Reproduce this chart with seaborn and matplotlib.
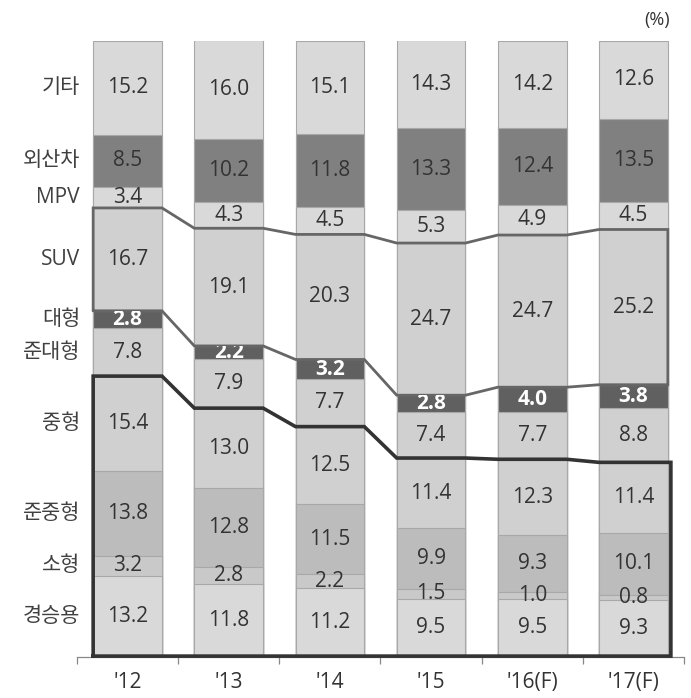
import numpy as np
import pandas as pd
import matplotlib
matplotlib.use("Agg")
import matplotlib.pyplot as plt
from matplotlib.transforms import Bbox, TransformedBbox
import seaborn as sns

# Market share by segment (%), stacked bottom -> top
years = ["'12", "'13", "'14", "'15", "'16(F)", "'17(F)"]
segments = ["경승용", "소형", "준중형", "중형", "준대형", "대형", "SUV", "MPV", "외산차", "기타"]

light_car = [13.2, 11.8, 11.2, 9.5, 9.5, 9.3]
small     = [3.2, 2.8, 2.2, 1.5, 1.0, 0.8]
semi_mid  = [13.8, 12.8, 11.5, 9.9, 9.3, 10.1]
mid       = [15.4, 13.0, 12.5, 11.4, 12.3, 11.4]
semi_large = [7.8, 7.9, 7.7, 7.4, 7.7, 8.8]
large     = [2.8, 2.2, 3.2, 2.8, 4.0, 3.8]
suv       = [16.7, 19.1, 20.3, 24.7, 24.7, 25.2]
mpv       = [3.4, 4.3, 4.5, 5.3, 4.9, 4.5]
imported  = [8.5, 10.2, 11.8, 13.3, 12.4, 13.5]
others    = [15.2, 16.0, 15.1, 14.3, 14.2, 12.6]

series = [light_car, small, semi_mid, mid, semi_large, large, suv, mpv, imported, others]
colors = ["#d9d9d9", "#c9c9c9", "#bcbcbc", "#d0d0d0", "#d0d0d0",
          "#606060", "#d0d0d0", "#d9d9d9", "#808080", "#d9d9d9"]
dark_segments = {"대형"}

sns.set_theme(style="white")
plt.rcParams["font.family"] = ["Open Sans", "Noto Sans CJK KR", "DejaVu Sans"]

vals = np.array(series)            # (segment, year)
tops = np.cumsum(vals, axis=0)
bottoms = tops - vals

fig = plt.figure(figsize=(6.91, 6.98), dpi=100)
ax = fig.add_axes([0.1114, 0.0587, 0.8785, 0.8826])

bar_w = 0.68
edge = "#a8a8a8"
# Stacked bars: draw cumulative heights from the top layer down
for k in range(len(segments) - 1, -1, -1):
    df = pd.DataFrame({"year": years, "value": tops[k]})
    sns.barplot(data=df, x="year", y="value", order=years, color=colors[k],
                saturation=1, width=bar_w, edgecolor=edge, linewidth=0.8,
                errorbar=None, ax=ax, zorder=2 + (len(segments) - k) * 0.01)

n = len(years)
xs = np.arange(n)
half = bar_w / 2

def outline(level):
    px, py = [], []
    for i in range(n):
        px += [i - half, i + half]
        py += [level[i], level[i]]
    return px, py

# Group outline for small / mid passenger cars (경승용 ~ 중형)
i_mid = segments.index("중형")
px, py = outline(tops[i_mid])
right = px[-1] + 0.03
bx = [px[0]] + px + [right, right, px[0]]
by = [0.15] + list(py) + [py[-1], 0.15, 0.15]
ax.plot(bx, by, color="#333333", lw=2.6, zorder=5, solid_joinstyle="miter",
        solid_capstyle="projecting", clip_on=False)

# Outline around the SUV band
i_suv = segments.index("SUV")
tx, ty = outline(tops[i_suv])
lx, ly = outline(bottoms[i_suv])
gx = [tx[0]] + tx + lx[::-1] + [tx[0]]
gy = [ly[0]] + ty + ly[::-1] + [ly[0]]
ax.plot(gx, gy, color="#666666", lw=2.0, zorder=5, solid_joinstyle="miter")

# Value labels
for k, seg in enumerate(segments):
    for i in range(n):
        v = vals[k, i]
        yc = bottoms[k, i] + v / 2
        if seg in dark_segments:
            t = ax.text(i, yc, f"{v:.1f}", ha="center", va="center",
                        fontsize=15, color="white", fontweight="bold", zorder=6)
            box = TransformedBbox(
                Bbox([[i - half, bottoms[k, i]], [i + half, tops[k, i]]]),
                ax.transData)
            t.set_clip_path(None)
            t.set_clip_box(box)
            t.set_clip_on(True)
        else:
            ax.text(i, yc, f"{v:.1f}", ha="center", va="center",
                    fontsize=15, color="#333333", zorder=6)

# Segment names beside the first bar
for k, seg in enumerate(segments):
    yc = bottoms[k, 0] + vals[k, 0] / 2
    ax.text(-0.47, yc, seg, ha="right", va="center", fontsize=15,
            color="#404040", zorder=6, clip_on=False)

ax.set_xlim(-0.5, n - 0.5)
ax.set_ylim(0, 100)
ax.set_xlabel("")
ax.set_ylabel("")
ax.set_yticks([])
ax.set_xticks(xs)
ax.set_xticklabels(years, fontsize=15, color="#333333")
ax.set_xticks(np.arange(-0.5, n), minor=True)
ax.tick_params(axis="x", which="major", length=0, pad=11)
ax.tick_params(axis="x", which="minor", length=5, width=0.9, color="#888888",
               bottom=True)
for s in ["top", "left", "right"]:
    ax.spines[s].set_visible(False)
ax.spines["bottom"].set_color("#888888")
ax.spines["bottom"].set_linewidth(0.9)
ax.set_facecolor("white")

fig.text(0.951, 0.971, "(%)", ha="center", va="center", fontsize=13,
         color="#333333")

fig.savefig("out.png", dpi=100, facecolor="white")
